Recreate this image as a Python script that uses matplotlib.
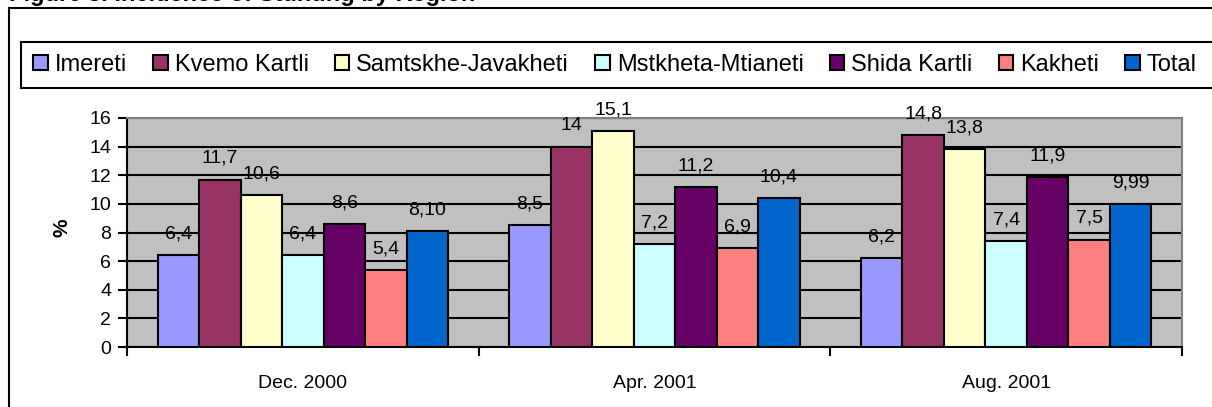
import matplotlib.pyplot as plt
from matplotlib.lines import Line2D
from matplotlib.patches import Patch
import numpy as np

plt.rcParams['font.family'] = ['Liberation Sans', 'DejaVu Sans']

# data
periods = ["Dec. 2000", "Apr. 2001", "Aug. 2001"]
regions = ["Imereti", "Kvemo Kartli", "Samtskhe-Javakheti", "Mstkheta-Mtianeti",
           "Shida Kartli", "Kakheti", "Total"]
imereti = [6.4, 8.5, 6.2]
kvemo_kartli = [11.7, 14.0, 14.8]
samtskhe = [10.6, 15.1, 13.8]
mtskheta = [6.4, 7.2, 7.4]
shida_kartli = [8.6, 11.2, 11.9]
kakheti = [5.4, 6.9, 7.5]
total = [8.1, 10.4, 9.99]
total_labels = ["8,10", "10,4", "9,99"]

series = [imereti, kvemo_kartli, samtskhe, mtskheta, shida_kartli, kakheti, total]
colors = ['#9999FF', '#993366', '#FFFFCC', '#CCFFFF', '#660066', '#FF8080', '#0066CC']

W, H = 1212, 407
fig = plt.figure(figsize=(W / 100, H / 100), dpi=100)

# title, mostly cut off at the top edge
fig.text(9 / W, 1 - 1.5 / H, "Figure 3. Incidence of Stunting by Region",
         fontsize=17, fontweight='bold', va='baseline', ha='left')

# outer chart frame (runs off right and bottom)
lw = 1.5
fig.add_artist(Line2D([9 / W, 9 / W], [0, 1 - 7.5 / H], transform=fig.transFigure, color='black', lw=lw))
fig.add_artist(Line2D([9 / W, 1], [1 - 7.5 / H, 1 - 7.5 / H], transform=fig.transFigure, color='black', lw=lw))

# legend box (runs off right)
lt, lb = 1 - 42 / H, 1 - 88 / H
fig.add_artist(Line2D([21 / W, 21 / W], [lb, lt], transform=fig.transFigure, color='black', lw=lw))
fig.add_artist(Line2D([21 / W, 1], [lt, lt], transform=fig.transFigure, color='black', lw=lw))
fig.add_artist(Line2D([21 / W, 1], [lb, lb], transform=fig.transFigure, color='black', lw=lw))

ax = fig.add_axes([127 / W, 1 - 347 / H, (1182 - 127) / W, (347 - 118) / H])
ax.set_facecolor('#C0C0C0')

x = np.arange(len(periods))
bw = 0.118
for i, (vals, c) in enumerate(zip(series, colors)):
    pos = x + (i - 3) * bw
    ax.bar(pos, vals, width=bw, color=c, edgecolor='black', linewidth=1.5, zorder=3)
    for j, v in enumerate(vals):
        if vals is total:
            lab = total_labels[j]
        else:
            lab = f"{v:g}".replace('.', ',')
        ax.annotate(lab, (pos[j], v), xytext=(0, 12), textcoords='offset points',
                    ha='center', va='baseline', fontsize=14, clip_on=False, zorder=4)

ax.set_xlim(-0.5, 2.5)
ax.set_ylim(0, 16)
ax.set_yticks(np.arange(0, 17, 2))
ax.yaxis.grid(True, color='black', linewidth=1.5, zorder=1)
ax.set_axisbelow(True)

ax.set_xticks(x)
ax.set_xticklabels(periods, fontsize=14)
ax.set_xticks([-0.5, 0.5, 1.5, 2.5], minor=True)
ax.tick_params(axis='x', which='major', length=0, pad=20)
ax.tick_params(axis='x', which='minor', length=6.5, width=1.5, direction='out')
ax.tick_params(axis='y', length=6.5, width=1.5, direction='out', labelsize=14, pad=5)

for s in ['left', 'bottom']:
    ax.spines[s].set_color('black')
    ax.spines[s].set_linewidth(1.5)
for s in ['top', 'right']:
    ax.spines[s].set_color('#808080')
    ax.spines[s].set_linewidth(1.5)

fig.text(62 / W, 1 - 228 / H, "%", rotation=90, fontsize=15, fontweight='bold',
         ha='center', va='center')

handles = [Patch(facecolor=c, edgecolor='black', linewidth=1.5) for c in colors]
fig.legend(handles, regions, loc='center left', bbox_to_anchor=(33 / W, 1 - 65 / H),
           ncol=7, frameon=False, fontsize=17, handlelength=0.62, handleheight=0.62,
           handletextpad=0.3, columnspacing=1.1, borderpad=0, borderaxespad=0)

fig.savefig('out.png', dpi=100)
